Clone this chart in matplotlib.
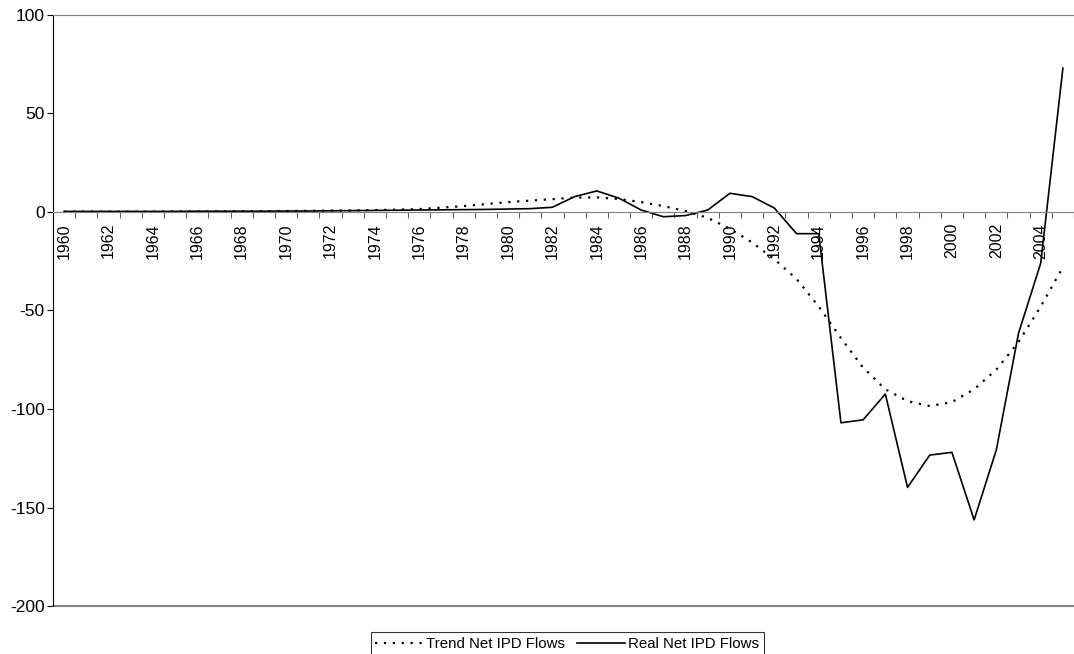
import matplotlib
matplotlib.use('Agg')
import matplotlib.pyplot as plt
import numpy as np

plt.rcParams['font.family'] = ['Liberation Sans', 'DejaVu Sans']

years = list(range(1960, 2006))

# Real Net IPD Flows (solid)
real = [0.3, 0.3, 0.3, 0.3, 0.3, 0.3, 0.4, 0.4, 0.4, 0.4,
        0.5, 0.5, 0.6, 0.7, 0.8, 0.9, 1.0, 1.1, 1.2, 1.3,
        1.5, 1.7, 2.4, 7.8, 10.7, 7.0, 1.0, -2.4, -1.8, 1.0,
        9.5, 7.8, 2.0, -11.0, -11.0, -107.0, -105.5, -92.4, -139.8, -123.4,
        -122.0, -156.3, -120.8, -61.6, -26.0, 73.0]

# Trend Net IPD Flows (dotted)
trend = [0.2, 0.2, 0.2, 0.2, 0.2, 0.3, 0.3, 0.3, 0.4, 0.4,
         0.5, 0.6, 0.7, 0.8, 1.0, 1.2, 1.5, 2.2, 3.0, 4.0,
         5.0, 5.8, 6.5, 7.3, 7.4, 6.6, 5.0, 3.0, 0.5, -3.0,
         -8.5, -15.5, -24.0, -34.0, -48.0, -64.0, -79.0, -90.0, -96.0, -98.5,
         -96.5, -90.0, -80.0, -66.0, -48.0, -28.0]

yticks = [100, 50, 0, -50, -100, -150, -200]

fig = plt.figure(figsize=(10.74, 6.54), dpi=100)
ax = fig.add_axes([53 / 1074, 1 - 606 / 654, 1 - 53 / 1074, (606 - 15) / 654])

x = np.arange(len(years))
ax.plot(x, trend, color='black', linestyle=(0, (1, 3.0)), linewidth=1.6,
        label='Trend Net IPD Flows')
ax.plot(x, real, color='black', linewidth=1.2, label='Real Net IPD Flows')

ax.set_xlim(-0.5, len(years) - 0.5)
ax.set_ylim(-200, 100)

# frame: gray top/bottom, black left, category axis at zero
ax.spines['right'].set_visible(False)
ax.spines['top'].set_color('#808080')
ax.spines['left'].set_color('black')
ax.spines['bottom'].set_position(('data', 0))
ax.spines['bottom'].set_color('#808080')
ax.axhline(-200, color='#808080', linewidth=1.5, clip_on=False)

ax.set_yticks(yticks)
ax.set_yticklabels([str(v) for v in yticks], fontsize=12.5)
ax.tick_params(axis='y', direction='out', length=4, width=0.8, pad=2)

ax.set_xticks(x[::2])
ax.set_xticklabels([str(y) for y in years[::2]], rotation=90, fontsize=11.5)
ax.set_xticks(np.arange(len(years) + 1) - 0.5, minor=True)
ax.tick_params(axis='x', which='major', length=0, pad=8)
ax.tick_params(axis='x', which='minor', direction='out', length=4,
               width=0.8, color='#606060')
for lbl in ax.get_xticklabels():
    lbl.set_verticalalignment('top')

leg = fig.legend(loc='lower center', bbox_to_anchor=(0.528, -0.002), ncol=2,
                 fontsize=10.8, frameon=True, fancybox=False,
                 edgecolor='black', handlelength=3.2, columnspacing=0.8,
                 handletextpad=0.2, borderpad=0.3, borderaxespad=0)
leg.get_frame().set_linewidth(0.8)

plt.savefig('out.png', dpi=100)
